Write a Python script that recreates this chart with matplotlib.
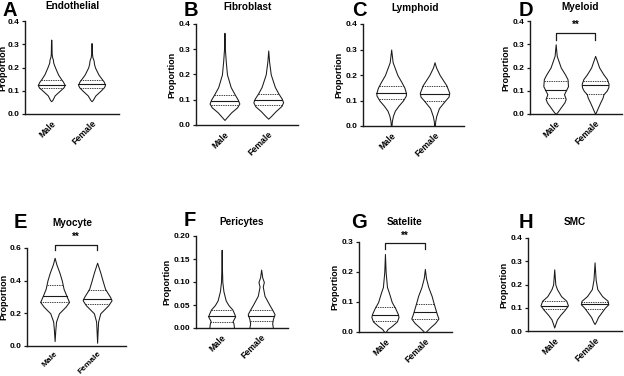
import matplotlib
matplotlib.use("Agg")
import matplotlib.pyplot as plt
import numpy as np

plt.rcParams['font.family'] = ['Liberation Sans', 'DejaVu Sans']
plt.rcParams['font.weight'] = 'bold'

groups = ["Male", "Female"]
titles = ["Endothelial", "Fibroblast", "Lymphoid", "Myeloid",
          "Myocyte", "Pericytes", "Satelite", "SMC"]
letters = ["A", "B", "C", "D", "E", "F", "G", "H"]

# violin outlines: y levels and relative half-widths (0..1)
endo_m_y = [0.055, 0.06, 0.08, 0.10, 0.115, 0.125, 0.14, 0.15, 0.17, 0.20, 0.22, 0.235, 0.245, 0.26, 0.30, 0.32]
endo_m_w = [0.0, 0.08, 0.25, 0.62, 0.9, 0.98, 0.85, 0.72, 0.5, 0.28, 0.15, 0.12, 0.06, 0.03, 0.02, 0.0]
endo_f_y = [0.055, 0.06, 0.08, 0.10, 0.115, 0.125, 0.14, 0.15, 0.17, 0.20, 0.215, 0.23, 0.245, 0.26, 0.29, 0.305]
endo_f_w = [0.0, 0.08, 0.28, 0.65, 0.9, 0.98, 0.88, 0.75, 0.5, 0.25, 0.18, 0.15, 0.06, 0.03, 0.02, 0.0]

fibro_m_y = [0.02, 0.03, 0.05, 0.07, 0.085, 0.10, 0.12, 0.15, 0.20, 0.25, 0.30, 0.365]
fibro_m_w = [0.0, 0.15, 0.45, 0.85, 1.0, 0.9, 0.7, 0.42, 0.17, 0.09, 0.03, 0.0]
fibro_f_y = [0.025, 0.035, 0.055, 0.075, 0.09, 0.105, 0.125, 0.15, 0.20, 0.25, 0.295]
fibro_f_w = [0.0, 0.18, 0.5, 0.88, 1.0, 0.9, 0.68, 0.45, 0.17, 0.06, 0.0]

lymph_m_y = [0.0, 0.02, 0.04, 0.06, 0.08, 0.10, 0.12, 0.13, 0.15, 0.17, 0.20, 0.25, 0.30]
lymph_m_w = [0.02, 0.05, 0.12, 0.25, 0.5, 0.8, 1.0, 1.0, 0.9, 0.72, 0.42, 0.1, 0.0]
lymph_f_y = [0.0, 0.02, 0.04, 0.07, 0.10, 0.115, 0.13, 0.16, 0.20, 0.23, 0.25]
lymph_f_w = [0.02, 0.05, 0.12, 0.3, 0.72, 0.95, 1.0, 0.8, 0.35, 0.1, 0.0]

myel_m_y = [0.0, 0.01, 0.03, 0.05, 0.065, 0.085, 0.10, 0.12, 0.15, 0.17, 0.20, 0.25, 0.30]
myel_m_w = [0.0, 0.15, 0.4, 0.65, 0.75, 0.62, 0.75, 0.92, 0.88, 0.7, 0.38, 0.08, 0.0]
myel_f_y = [0.0, 0.02, 0.05, 0.07, 0.085, 0.10, 0.115, 0.13, 0.15, 0.17, 0.20, 0.25]
myel_f_w = [0.0, 0.15, 0.38, 0.55, 0.62, 0.85, 0.98, 1.0, 0.88, 0.62, 0.3, 0.0]

myo_m_y = [0.03, 0.10, 0.15, 0.20, 0.24, 0.27, 0.30, 0.35, 0.40, 0.45, 0.50, 0.54]
myo_m_w = [0.0, 0.05, 0.1, 0.3, 0.75, 1.0, 0.85, 0.62, 0.5, 0.33, 0.12, 0.0]
myo_f_y = [0.02, 0.10, 0.15, 0.20, 0.25, 0.28, 0.30, 0.35, 0.40, 0.45, 0.51]
myo_f_w = [0.0, 0.04, 0.07, 0.22, 0.78, 1.0, 0.9, 0.55, 0.38, 0.22, 0.0]

peri_m_y = [0.0, 0.01, 0.015, 0.025, 0.03, 0.04, 0.05, 0.06, 0.08, 0.10, 0.13, 0.17]
peri_m_w = [0.92, 0.88, 0.82, 1.0, 0.95, 0.8, 0.5, 0.3, 0.13, 0.05, 0.02, 0.0]
peri_f_y = [0.0, 0.01, 0.02, 0.03, 0.04, 0.05, 0.07, 0.09, 0.10, 0.11, 0.127]
peri_f_w = [0.88, 0.82, 0.88, 1.0, 0.82, 0.62, 0.25, 0.12, 0.2, 0.08, 0.0]

sat_m_y = [0.0, 0.01, 0.02, 0.035, 0.05, 0.06, 0.08, 0.10, 0.13, 0.15, 0.20, 0.26]
sat_m_w = [0.05, 0.2, 0.5, 0.88, 1.0, 0.95, 0.75, 0.5, 0.3, 0.15, 0.05, 0.0]
sat_f_y = [0.0, 0.015, 0.03, 0.045, 0.06, 0.08, 0.10, 0.12, 0.15, 0.18, 0.21]
sat_f_w = [0.05, 0.38, 0.75, 1.0, 0.88, 0.75, 0.62, 0.5, 0.25, 0.08, 0.0]

smc_m_y = [0.015, 0.03, 0.05, 0.07, 0.09, 0.11, 0.13, 0.15, 0.18, 0.20, 0.265]
smc_m_w = [0.0, 0.08, 0.2, 0.45, 0.75, 1.0, 0.88, 0.5, 0.2, 0.08, 0.0]
smc_f_y = [0.03, 0.04, 0.06, 0.08, 0.10, 0.115, 0.13, 0.15, 0.18, 0.22, 0.295]
smc_f_w = [0.0, 0.1, 0.25, 0.5, 0.75, 1.0, 0.95, 0.55, 0.2, 0.08, 0.0]

# median, first and third quartile per group (Male, Female)
medians = [[0.125, 0.128], [0.095, 0.098], [0.130, 0.127], [0.105, 0.125],
           [0.305, 0.290], [0.026, 0.027], [0.058, 0.068], [0.107, 0.115]]
q1s = [[0.113, 0.113], [0.078, 0.078], [0.105, 0.100], [0.068, 0.088],
       [0.270, 0.260], [0.012, 0.015], [0.038, 0.043], [0.095, 0.095]]
q3s = [[0.148, 0.145], [0.120, 0.122], [0.158, 0.155], [0.140, 0.143],
       [0.375, 0.340], [0.040, 0.040], [0.083, 0.095], [0.130, 0.125]]

ymaxs = [0.4, 0.4, 0.4, 0.4, 0.6, 0.20, 0.3, 0.4]
ytick_sets = [[0.0, 0.1, 0.2, 0.3, 0.4], [0.0, 0.1, 0.2, 0.3, 0.4],
              [0.0, 0.1, 0.2, 0.3, 0.4], [0.0, 0.1, 0.2, 0.3, 0.4],
              [0.0, 0.2, 0.4, 0.6], [0.00, 0.05, 0.10, 0.15, 0.20],
              [0.0, 0.1, 0.2, 0.3], [0.0, 0.1, 0.2, 0.3, 0.4]]
ytick_fmt = ["%.1f", "%.1f", "%.1f", "%.1f", "%.1f", "%.2f", "%.1f", "%.1f"]

# significance brackets: panel index -> (bracket height, leg bottom, label)
sig = {3: (0.35, 0.32, "**"), 4: (0.62, 0.59, "**"), 6: (0.297, 0.277, "**")}

profiles = [
    (endo_m_y, endo_m_w, endo_f_y, endo_f_w),
    (fibro_m_y, fibro_m_w, fibro_f_y, fibro_f_w),
    (lymph_m_y, lymph_m_w, lymph_f_y, lymph_f_w),
    (myel_m_y, myel_m_w, myel_f_y, myel_f_w),
    (myo_m_y, myo_m_w, myo_f_y, myo_f_w),
    (peri_m_y, peri_m_w, peri_f_y, peri_f_w),
    (sat_m_y, sat_m_w, sat_f_y, sat_f_w),
    (smc_m_y, smc_m_w, smc_f_y, smc_f_w),
]

W, H = 624, 376
fig = plt.figure(figsize=(W / 100, H / 100), dpi=100)

# axes boxes in pixels: left, right, top, bottom
boxes = [(25, 119, 21, 114), (196, 298, 24, 125), (363, 464, 24, 126), (530, 622, 21, 114),
         (27, 126, 248, 346), (196, 288, 236, 328), (359, 452, 242, 332), (528, 622, 238, 331)]
label_off = [17.5, 19.5, 19.5, 19.5, 19, 24.5, 19.5, 19.5]
letter_pos = [(10, 10), (191, 10), (359, 10), (526, 10),
              (20, 223), (190, 221), (359, 223), (526, 223)]
title_pos = [(72, 6), (248, 7), (415, 8), (580, 7),
             (72, 223), (242, 222), (405, 222), (575, 222)]

LC = "#1a1a1a"
HW = 0.34
for i in range(8):
    l, r, t, b = boxes[i]
    ax = fig.add_axes([l / W, 1 - b / H, (r - l) / W, (b - t) / H])
    my, mw, fy, fw = profiles[i]
    for j, (yy, ww) in enumerate([(my, mw), (fy, fw)]):
        yy = np.array(yy)
        ww = np.array(ww) * HW
        ax.fill_betweenx(yy, j - ww, j + ww, facecolor="white", edgecolor=LC, linewidth=0.75, zorder=2)
        for val, ls in [(medians[i][j], "-"), (q1s[i][j], (0, (1.6, 1.2))), (q3s[i][j], (0, (1.6, 1.2)))]:
            hw = np.interp(val, yy, ww)
            ax.plot([j - hw, j + hw], [val, val], color=LC, linewidth=0.8 if ls == "-" else 0.6,
                    linestyle=ls, zorder=3)
    ax.set_xlim(-0.65, 1.68)
    ax.set_ylim(0, ymaxs[i])
    ax.set_yticks(ytick_sets[i])
    ax.set_yticklabels([ytick_fmt[i] % v for v in ytick_sets[i]], fontsize=6, fontweight="bold")
    ax.set_xticks([0, 1])
    ax.set_xticklabels(groups, rotation=45, ha="right", rotation_mode="anchor",
                       fontsize=6.3 if i != 4 else 6.0, fontweight="bold")
    ax.tick_params(axis="y", length=2.5, width=0.9, pad=1.5, color=LC)
    ax.tick_params(axis="x", length=0, pad=3.5 if i != 4 else 3.0)
    for s in ["top", "right"]:
        ax.spines[s].set_visible(False)
    for s in ["left", "bottom"]:
        ax.spines[s].set_linewidth(1.0)
        ax.spines[s].set_color(LC)
    ax.set_ylabel("Proportion", fontsize=6.5, fontweight="bold")
    ax.yaxis.set_label_coords(-label_off[i] / (r - l), 0.5)
    if i in sig:
        h, leg, lab = sig[i]
        ax.plot([0, 0, 1, 1], [leg, h, h, leg], color=LC, linewidth=0.9, clip_on=False)
        ax.text(0.5, h + ymaxs[i] * 0.025, lab, ha="center", va="bottom", fontsize=7,
                fontweight="bold", clip_on=False)
    lx, ly = letter_pos[i]
    fig.text(lx / W, 1 - ly / H, letters[i], fontsize=14.5, fontweight="bold", ha="center", va="center")
    tx, ty = title_pos[i]
    fig.text(tx / W, 1 - ty / H, titles[i], fontsize=7.2, fontweight="bold", ha="center", va="center")

fig.savefig("out.png", dpi=100)
